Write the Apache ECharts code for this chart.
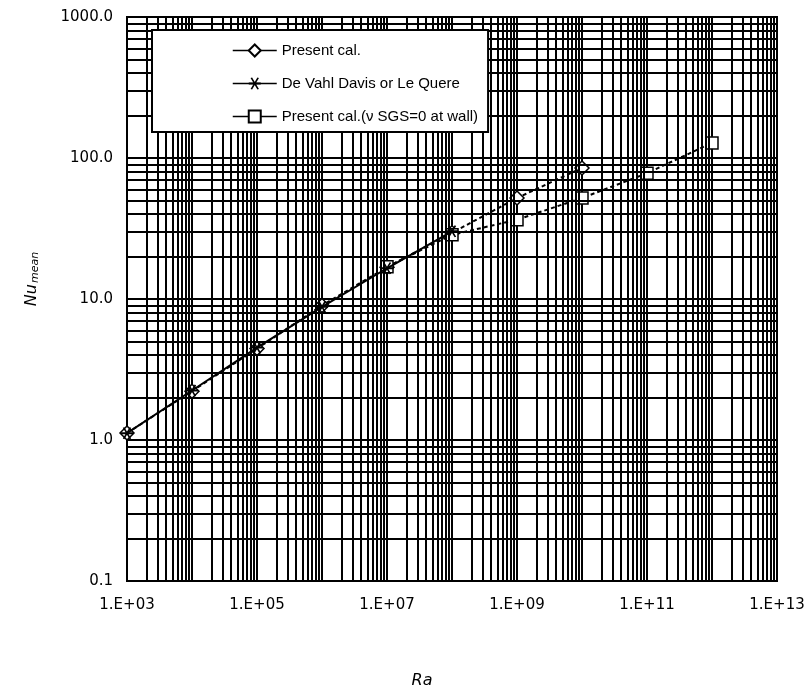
<!DOCTYPE html>
<html>
<head>
<meta charset="utf-8">
<script src="https://cdn.jsdelivr.net/npm/echarts@6/dist/echarts.min.js"></script>
<style>
	html, body { margin: 0; padding: 0; background: #fff; }
	#chart { width: 810px; height: 698px; }
</style>
</head>
<body>
<div id="chart"></div>
<script>
	// Present cal.
	const raPresent = [1e3, 1e4, 1e5, 1e6, 1e7, 1e8, 1e9, 1e10]
	const nuPresent = [1.12, 2.22, 4.45, 9.0, 16.8, 29.5, 52, 85]
	// De Vahl Davis or Le Quere
	const raDavis = [1e3, 1e4, 1e5, 1e6, 1e7, 1e8]
	const nuDavis = [1.118, 2.243, 4.519, 8.8, 16.52, 30.2]
	// Present cal.(ν SGS=0 at wall)
	const raSgs = [1e7, 1e8, 1e9, 1e10, 1e11, 1e12]
	const nuSgs = [16.9, 28.5, 36.5, 52, 78, 128]

	const seriesNames = ['Present cal.', 'De Vahl Davis or Le Quere', 'Present cal.(ν SGS=0 at wall)']
	const xDecades = [3, 4, 5, 6, 7, 8, 9, 10, 11, 12]
	const yDecades = [-1, 0, 1, 2]
	const minorSteps = [2, 3, 4, 5, 6, 7, 8, 9]

	const pair = (xs, ys) => xs.map((x, i) => [x, ys[i]])

	// minor grid lines (2..9 per decade), placed through the axes by markLine
	const minorLines = []
	xDecades.forEach(e => minorSteps.forEach(m => minorLines.push({ xAxis: m * Math.pow(10, e) })))
	yDecades.forEach(e => minorSteps.forEach(m => minorLines.push({ yAxis: m * Math.pow(10, e) })))

	const starPath = 'path://M0,4.2L10,4.2L10,5.8L0,5.8Z M1.5,0.5L2.8,0L8.5,9.5L7.2,10Z M2.8,10L1.5,9.5L7.2,0L8.5,0.5Z'
	const labelFont = 'DejaVu Sans'

	const chart = echarts.init(document.getElementById('chart'))
	const option = {
		animation: false,
		backgroundColor: '#fff',
		grid: {
			left: 127, right: 33, top: 17, bottom: 117,
			show: true, borderColor: '#000', borderWidth: 2
		},
		legend: {
			data: seriesNames,
			orient: 'vertical',
			left: 152, top: 30,
			z: 100,
			zlevel: 1,
			padding: [13, 10, 8, 80],
			itemGap: 18,
			itemWidth: 44,
			itemHeight: 15,
			backgroundColor: '#fff',
			borderColor: '#000',
			borderWidth: 2,
			borderRadius: 0,
			lineStyle: { type: 'solid', width: 1.5, color: '#000' },
			textStyle: { fontFamily: 'Liberation Sans', fontSize: 15, color: '#000' }
		},
		xAxis: {
			type: 'log',
			logBase: 10,
			min: 1e3,
			max: 1e13,
			name: 'Ra',
			nameLocation: 'middle',
			nameGap: 92,
			nameTextStyle: {
				fontFamily: labelFont, fontSize: 16, fontStyle: 'italic', color: '#000',
				padding: [0, 60, 0, 0]
			},
			axisLine: { lineStyle: { color: '#000', width: 2 } },
			axisTick: { show: false },
			axisLabel: {
				margin: 17,
				color: '#000',
				fontFamily: labelFont,
				fontSize: 15,
				formatter: v => {
					const e = Math.round(Math.log10(v))
					if (e % 2 === 0) return ''
					return '1.E+' + String(e).padStart(2, '0')
				}
			},
			splitLine: { show: true, lineStyle: { color: '#000', width: 2 } }
		},
		yAxis: {
			type: 'log',
			logBase: 10,
			min: 0.1,
			max: 1000,
			name: '{a|Nu}{b|mean}',
			nameLocation: 'middle',
			nameGap: 86,
			nameRotate: 90,
			nameTextStyle: {
				color: '#000',
				padding: [0, 0, 0, 40],
				rich: {
					a: { fontFamily: labelFont, fontSize: 16, fontStyle: 'italic', color: '#000' },
					b: { fontFamily: labelFont, fontSize: 11, fontStyle: 'italic', color: '#000', padding: [8, 0, 0, 1] }
				}
			},
			axisLine: { lineStyle: { color: '#000', width: 2 } },
			axisTick: { show: false },
			axisLabel: {
				margin: 14,
				color: '#000',
				fontFamily: labelFont,
				fontSize: 15,
				formatter: v => v.toFixed(1)
			},
			splitLine: { show: true, lineStyle: { color: '#000', width: 2 } }
		},
		series: [
			{
				name: 'minor-grid',
				type: 'line',
				data: [],
				silent: true,
				z: 1,
				markLine: {
					silent: true,
					symbol: ['none', 'none'],
					label: { show: false },
					lineStyle: { color: '#000', width: 2, type: 'solid' },
					emphasis: { disabled: true },
					data: minorLines
				}
			},
			{
				name: seriesNames[0],
				type: 'line',
				data: pair(raPresent, nuPresent),
				symbol: 'diamond',
				symbolSize: 14,
				z: 4,
				lineStyle: { color: '#000', width: 2, type: [4, 3] },
				itemStyle: { color: '#fff', borderColor: '#000', borderWidth: 1.5 }
			},
			{
				name: seriesNames[1],
				type: 'line',
				data: pair(raDavis, nuDavis),
				symbol: starPath,
				symbolSize: 12,
				z: 5,
				lineStyle: { color: '#000', width: 2 },
				itemStyle: { color: '#000', borderWidth: 0 }
			},
			{
				name: seriesNames[2],
				type: 'line',
				data: pair(raSgs, nuSgs),
				symbol: 'rect',
				symbolSize: 12,
				z: 4,
				lineStyle: { color: '#000', width: 2, type: [4, 3] },
				itemStyle: { color: '#fff', borderColor: '#000', borderWidth: 1.5 }
			}
		]
	}
	chart.setOption(option)
</script>
</body>
</html>
